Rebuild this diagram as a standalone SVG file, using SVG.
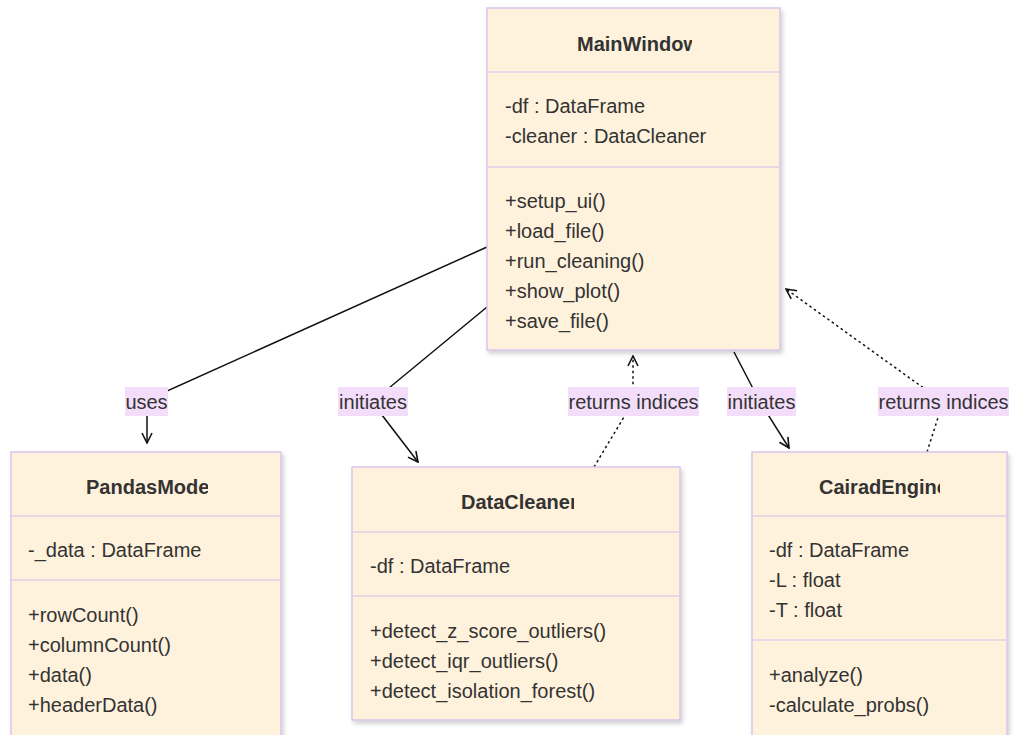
<svg xmlns="http://www.w3.org/2000/svg" width="1014" height="735" viewBox="0 0 1014 735">
<style>
.box{fill:#fff2dc;stroke:#dcc3ec;stroke-width:1.5}
.div{stroke:#e6cde8;stroke-width:1.5}
.t{font-family:"Liberation Sans",Arial,sans-serif;font-size:20px;fill:#333}
.b{font-weight:bold}
.edge{fill:none;stroke:#111;stroke-width:1.5}
.dot{stroke-dasharray:2.5,3}
.lbg{fill:#f3ddfa}
</style>
<defs>
<filter id="sh" x="-10%" y="-10%" width="120%" height="120%">
<feDropShadow dx="2" dy="3" stdDeviation="2" flood-color="#000" flood-opacity="0.18"/>
</filter>
<marker id="arr" viewBox="0 0 12 12" refX="11" refY="6" markerWidth="12" markerHeight="12" markerUnits="userSpaceOnUse" orient="auto">
<path d="M1,1 L11,6 L1,11" fill="none" stroke="#111" stroke-width="1.6"/>
</marker>
<clipPath id="c1"><rect x="487" y="20" width="205" height="50"/></clipPath>
<clipPath id="c2"><rect x="11" y="465" width="197" height="45"/></clipPath>
<clipPath id="c3"><rect x="352" y="480" width="222" height="45"/></clipPath>
<clipPath id="c4"><rect x="752" y="465" width="188" height="45"/></clipPath>
</defs>
<rect width="1014" height="735" fill="#fff"/>

<g id="connectors">
<path class="edge" d="M487,247 L147,400 L147,443" marker-end="url(#arr)"/>
<path class="edge" d="M487,307 L372,402 L418,462" marker-end="url(#arr)"/>
<path class="edge dot" d="M594,467 L633,402 L633,356" marker-end="url(#arr)"/>
<path class="edge" d="M734,352 L760,402 L789,448" marker-end="url(#arr)"/>
<path class="edge dot" d="M927,452 L943,402 L786,289" marker-end="url(#arr)"/>
<g id="labels">
<rect class="lbg" x="125" y="387" width="43" height="29"/>
<text class="t" x="146.5" y="409" text-anchor="middle">uses</text>
<rect class="lbg" x="338" y="387" width="70" height="29"/>
<text class="t" x="373" y="409" text-anchor="middle">initiates</text>
<rect class="lbg" x="568" y="387" width="131" height="29"/>
<text class="t" x="633.5" y="409" text-anchor="middle">returns indices</text>
<rect class="lbg" x="727" y="387" width="69" height="29"/>
<text class="t" x="761.5" y="409" text-anchor="middle">initiates</text>
<rect class="lbg" x="878" y="387" width="131" height="29"/>
<text class="t" x="943.5" y="409" text-anchor="middle">returns indices</text>
</g>
</g>

<g id="MainWindow">
<rect class="box" x="487" y="8" width="293" height="342" filter="url(#sh)"/>
<line class="div" x1="487" y1="72" x2="780" y2="72"/>
<line class="div" x1="487" y1="167" x2="780" y2="167"/>
<text class="t b" x="577" y="51" clip-path="url(#c1)">MainWindow</text>
<text class="t" x="505" y="113">-df : DataFrame</text>
<text class="t" x="505" y="143">-cleaner : DataCleaner</text>
<text class="t" x="505" y="208">+setup_ui()</text>
<text class="t" x="505" y="238">+load_file()</text>
<text class="t" x="505" y="268">+run_cleaning()</text>
<text class="t" x="505" y="298">+show_plot()</text>
<text class="t" x="505" y="328">+save_file()</text>
</g>

<g id="PandasModel">
<rect class="box" x="11" y="452" width="270" height="300" filter="url(#sh)"/>
<line class="div" x1="11" y1="516" x2="281" y2="516"/>
<line class="div" x1="11" y1="580" x2="281" y2="580"/>
<text class="t b" x="86" y="494" clip-path="url(#c2)">PandasModel</text>
<text class="t" x="28" y="557">-_data : DataFrame</text>
<text class="t" x="28" y="622">+rowCount()</text>
<text class="t" x="28" y="652">+columnCount()</text>
<text class="t" x="28" y="682">+data()</text>
<text class="t" x="28" y="712">+headerData()</text>
</g>

<g id="DataCleaner">
<rect class="box" x="352" y="467" width="328" height="253" filter="url(#sh)"/>
<line class="div" x1="352" y1="532" x2="680" y2="532"/>
<line class="div" x1="352" y1="596" x2="680" y2="596"/>
<text class="t b" x="461" y="509" clip-path="url(#c3)">DataCleaner</text>
<text class="t" x="370" y="573">-df : DataFrame</text>
<text class="t" x="370" y="638">+detect_z_score_outliers()</text>
<text class="t" x="370" y="668">+detect_iqr_outliers()</text>
<text class="t" x="370" y="698">+detect_isolation_forest()</text>
</g>

<g id="CairadEngine">
<rect class="box" x="752" y="452" width="255" height="300" filter="url(#sh)"/>
<line class="div" x1="752" y1="516" x2="1007" y2="516"/>
<line class="div" x1="752" y1="640" x2="1007" y2="640"/>
<text class="t b" x="819" y="494" clip-path="url(#c4)">CairadEngine</text>
<text class="t" x="769" y="557">-df : DataFrame</text>
<text class="t" x="769" y="587">-L : float</text>
<text class="t" x="769" y="617">-T : float</text>
<text class="t" x="769" y="682">+analyze()</text>
<text class="t" x="769" y="712">-calculate_probs()</text>
</g>
</svg>
